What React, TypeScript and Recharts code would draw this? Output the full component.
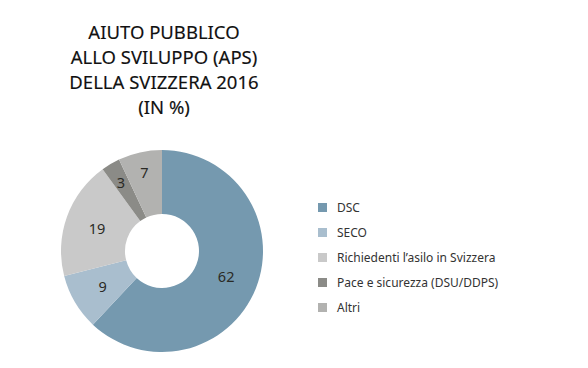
import React from 'react';
import { PieChart, Pie, Cell } from 'recharts';

const categories = ['DSC', 'SECO', 'Richiedenti l’asilo in Svizzera', 'Pace e sicurezza (DSU/DDPS)', 'Altri'];
const values = [62, 9, 19, 3, 7];
const colors = ['#7599AF', '#A9BECE', '#C9C9C9', '#8B8B87', '#B2B2B0'];
const titleLines = ['AIUTO PUBBLICO', 'ALLO SVILUPPO (APS)', 'DELLA SVIZZERA 2016', '(IN %)'];

const data = categories.map((name, i) => ({ name, value: values[i] }));

const FONT = '"Noto Sans", sans-serif';
const RAD = Math.PI / 180;

const renderLabel = (props: any) => {
  const { cx, cy, midAngle, innerRadius, outerRadius, percent, value } = props;
  const f = percent < 0.08 ? 0.68 : 0.5;
  const r = innerRadius + (outerRadius - innerRadius) * f;
  const x = cx + r * Math.cos(-midAngle * RAD);
  const y = cy + r * Math.sin(-midAngle * RAD);
  return (
    <text x={x} y={y} fill="#2a2a25" fontSize={14.5} fontFamily={FONT} textAnchor="middle" dominantBaseline="central">
      {value}
    </text>
  );
};

export default function App() {
  return (
    <div style={{ position: 'absolute', left: 0, top: 0, width: 588, height: 368, background: '#fff' }}>
      <div
        style={{
          position: 'absolute',
          left: 54,
          top: 19,
          width: 220,
          textAlign: 'center',
          fontFamily: FONT,
          fontSize: 18.5,
          lineHeight: '25px',
          color: '#111',
          WebkitTextStroke: '0.15px #111',
        }}
      >
        {titleLines.map((t) => (
          <div key={t}>{t}</div>
        ))}
      </div>
      <div style={{ position: 'absolute', left: 318, top: 195 }}>
        <div style={{ fontFamily: FONT, fontSize: 12, color: '#333' }}>
          {data.map((d, i) => (
            <div key={d.name} style={{ display: 'flex', alignItems: 'center', height: 25 }}>
              <span style={{ width: 9, height: 9, background: colors[i], display: 'inline-block', marginRight: 10 }} />
              <span>{d.name}</span>
            </div>
          ))}
        </div>
      </div>
      <PieChart
        width={588}
        height={368}
        margin={{ top: 0, right: 0, bottom: 0, left: 0 }}
        style={{ position: 'absolute', left: 0, top: 0 }}
      >
        <Pie
          data={data}
          dataKey="value"
          nameKey="name"
          cx={162}
          cy={251}
          innerRadius={37}
          outerRadius={101}
          startAngle={90}
          endAngle={-270}
          stroke="none"
          label={renderLabel}
          labelLine={false}
          isAnimationActive={false}
        >
          {data.map((d, i) => (
            <Cell key={d.name} fill={colors[i]} />
          ))}
        </Pie>
      </PieChart>
    </div>
  );
}
